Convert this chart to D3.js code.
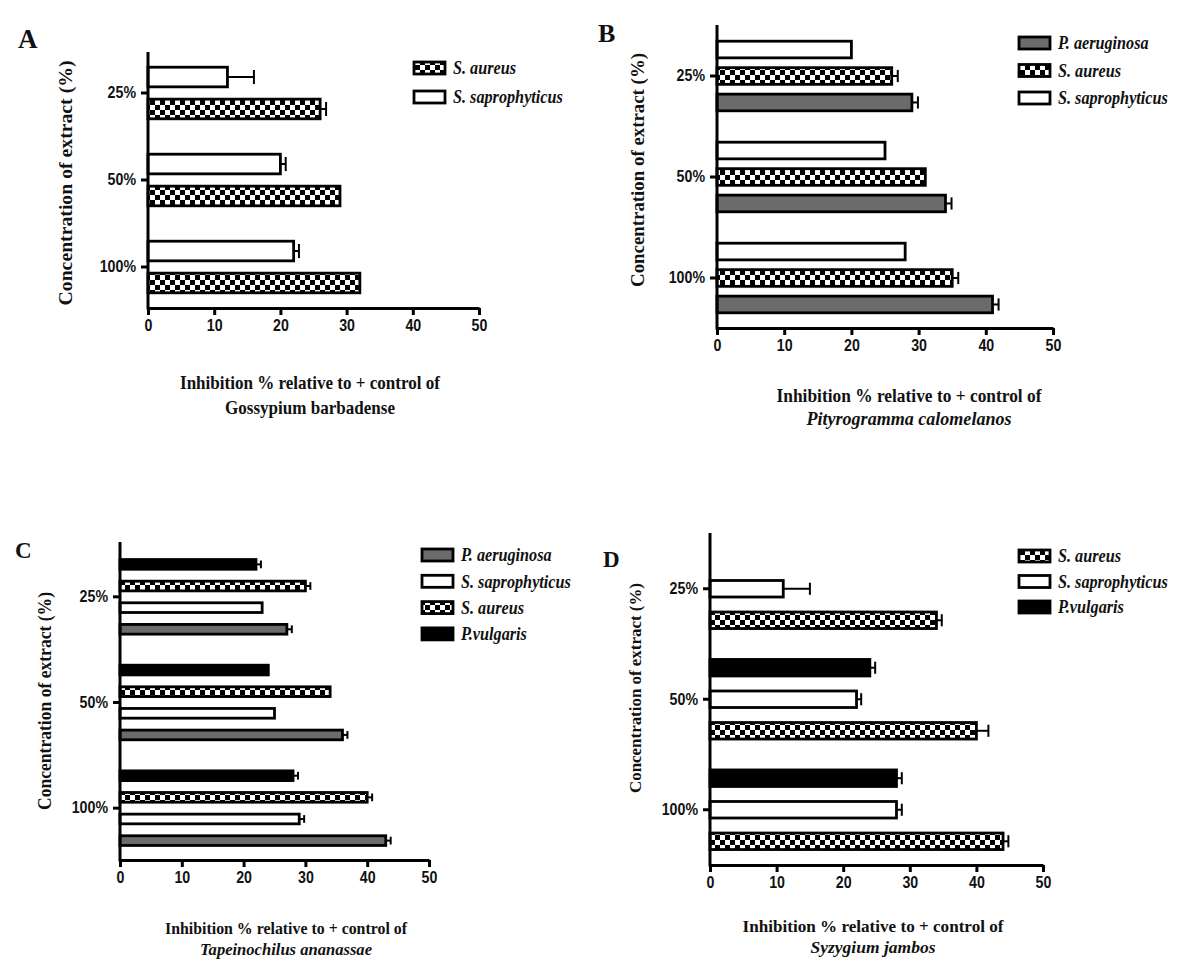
<!DOCTYPE html>
<html>
<head>
<meta charset="utf-8">
<script src="https://cdn.jsdelivr.net/npm/d3@7"></script>
<style>
  html, body { margin: 0; padding: 0; background: #fff; }
  svg { display: block; }
  .tick text { font-family: "Liberation Sans", Arial, sans-serif; font-weight: bold; font-size: 16.5px; fill: #111; }
  .serif { font-family: "Liberation Serif", "Times New Roman", serif; font-weight: bold; fill: #111; }
</style>
</head>
<body>
<svg id="chart" width="1200" height="977"></svg>
<script>
// ---------- data ----------
const concentrations = ["25%", "50%", "100%"];
const xTicks = [0, 10, 20, 30, 40, 50];

// Panel A – Gossypium barbadense
const seriesA = ["S. aureus", "S. saprophyticus"];
const aureusA = [26, 29, 32];
const aureusAErr = [0.9, 0, 0];
const saproA = [12, 20, 22];
const saproAErr = [4, 0.8, 0.8];

// Panel B – Pityrogramma calomelanos
const seriesB = ["P. aeruginosa", "S. aureus", "S. saprophyticus"];
const aerugB = [29, 34, 41];
const aerugBErr = [0.9, 0.9, 0.9];
const aureusB = [26, 31, 35];
const aureusBErr = [0.9, 0, 0.9];
const saproB = [20, 25, 28];
const saproBErr = [0, 0, 0];

// Panel C – Tapeinochilus ananassae
const seriesC = ["P. aeruginosa", "S. saprophyticus", "S. aureus", "P.vulgaris"];
const aerugC = [27, 36, 43];
const aerugCErr = [0.8, 0.8, 0.8];
const saproC = [23, 25, 29];
const saproCErr = [0, 0, 0.8];
const aureusC = [30, 34, 40];
const aureusCErr = [0.8, 0, 0.8];
const vulgC = [22, 24, 28];
const vulgCErr = [0.8, 0, 0.8];

// Panel D – Syzygium jambos
const seriesD = ["S. aureus", "S. saprophyticus", "P.vulgaris"];
const aureusD = [34, 40, 44];
const aureusDErr = [0.8, 1.8, 0.8];
const saproD = [11, 22, 28];
const saproDErr = [4, 0.7, 0.8];
const vulgD = [null, 24, 28];
const vulgDErr = [0, 0.8, 0.8];

const yTitle = "Concentration of extract (%)";
const xTitle1 = "Inhibition % relative to + control of";

// ---------- styles ----------
const fillFor = {
  "S. aureus": "url(#checker)",
  "S. saprophyticus": "#ffffff",
  "P. aeruginosa": "#6b6b6b",
  "P.vulgaris": "#000000"
};

const svg = d3.select("#chart");
const defs = svg.append("defs");
const pat = defs.append("pattern").attr("id", "checker")
  .attr("width", 10).attr("height", 10).attr("patternUnits", "userSpaceOnUse");
pat.append("rect").attr("width", 10).attr("height", 10).attr("fill", "#fff");
pat.append("rect").attr("width", 5).attr("height", 5).attr("fill", "#000");
pat.append("rect").attr("x", 5).attr("y", 5).attr("width", 5).attr("height", 5).attr("fill", "#000");

const panels = [
  { letter: "A", series: seriesA, values: [aureusA, saproA], errors: [aureusAErr, saproAErr],
    title2: "Gossypium barbadense", title2Italic: false,
    L: { x0: 148, x1: 479, yTop: 52, yBot: 308, bandTop: 49.5, bandBot: 310.5, span: 54, pad: 0.31,
         letterX: 18, letterY: 48, letterSize: 27,
         yTitleX: 65, yTitleY: 183, yTitleSize: 19.5, yTitleW: 245,
         xTitleX: 310, xTitleY1: 389, xTitleY2: 414, xTitleSize: 19, xTitleW1: 260, xTitleW2: 170,
         legX: 413, legY: 68, legStep: 29 } },
  { letter: "B", series: seriesB, values: [aerugB, aureusB, saproB], errors: [aerugBErr, aureusBErr, saproBErr],
    title2: "Pityrogramma calomelanos", title2Italic: true,
    L: { x0: 717, x1: 1053, yTop: 25, yBot: 328, bandTop: 25.5, bandBot: 328.5, span: 72, pad: 0.28,
         letterX: 598, letterY: 42, letterSize: 26,
         yTitleX: 637, yTitleY: 170, yTitleSize: 18.8, yTitleW: 234,
         xTitleX: 909, xTitleY1: 402, xTitleY2: 425, xTitleSize: 18, xTitleW1: 265, xTitleW2: 205,
         legX: 1018, legY: 43, legStep: 27.5 } },
  { letter: "C", series: seriesC, values: [aerugC, saproC, aureusC, vulgC], errors: [aerugCErr, saproCErr, aureusCErr, vulgCErr],
    title2: "Tapeinochilus ananassae", title2Italic: true,
    L: { x0: 120, x1: 429, yTop: 542, yBot: 860, bandTop: 544, bandBot: 861, span: 77, pad: 0.44,
         letterX: 15, letterY: 558, letterSize: 23,
         yTitleX: 45, yTitleY: 701, yTitleSize: 17.8, yTitleW: 218,
         xTitleX: 286, xTitleY1: 934, xTitleY2: 955, xTitleSize: 17.5, xTitleW1: 242, xTitleW2: 172,
         legX: 421, legY: 555, legStep: 26.3 } },
  { letter: "D", series: seriesD, values: [aureusD, saproD, vulgD], errors: [aureusDErr, saproDErr, vulgDErr],
    title2: "Syzygium jambos", title2Italic: true,
    L: { x0: 710, x1: 1043, yTop: 533, yBot: 865, bandTop: 533.5, bandBot: 865, span: 82, pad: 0.4,
         letterX: 603, letterY: 567, letterSize: 23,
         yTitleX: 635, yTitleY: 688, yTitleSize: 17.5, yTitleW: 210,
         xTitleX: 873, xTitleY1: 932, xTitleY2: 953, xTitleSize: 17.5, xTitleW1: 261, xTitleW2: 125,
         legX: 1018, legY: 556, legStep: 25.5 } }
];

panels.forEach(p => drawPanel(p));

function fitWidth(sel, w) {
  sel.attr("textLength", w).attr("lengthAdjust", "spacingAndGlyphs");
}
function condense(sel, f) {
  sel.each(function () {
    const n = this.getComputedTextLength();
    d3.select(this).attr("textLength", n * f).attr("lengthAdjust", "spacingAndGlyphs");
  });
}

function drawPanel(p) {
  const L = p.L;
  const g = svg.append("g");

  const x = d3.scaleLinear().domain([0, 50]).range([L.x0, L.x1]);
  const y = d3.scaleBand().domain(concentrations).range([L.bandTop, L.bandBot]).paddingInner(0).paddingOuter(0);
  const inner = d3.scaleBand().domain(p.series.slice().reverse())
    .range([-L.span / 2, L.span / 2]).paddingInner(L.pad).paddingOuter(0);
  const bh = inner.bandwidth();

  // bars
  p.series.forEach((s, si) => {
    const vals = p.values[si];
    const errs = p.errors[si];
    const recs = concentrations.map((c, ci) => ({ c, v: vals[ci], e: errs[ci] })).filter(d => d.v != null);
    const yy = d => y(d.c) + y.bandwidth() / 2 + inner(s);

    const eg = g.append("g");
    recs.filter(d => d.e > 0).forEach(d => {
      const cy = yy(d) + bh / 2;
      eg.append("line").attr("x1", x(d.v)).attr("x2", x(d.v + d.e)).attr("y1", cy).attr("y2", cy)
        .attr("stroke", "#000").attr("stroke-width", 2);
      eg.append("line").attr("x1", x(d.v + d.e)).attr("x2", x(d.v + d.e))
        .attr("y1", cy - bh * 0.32).attr("y2", cy + bh * 0.32)
        .attr("stroke", "#000").attr("stroke-width", 2);
    });

    g.append("g").selectAll("rect").data(recs).join("rect")
      .attr("x", x(0))
      .attr("y", d => yy(d) + 1.2)
      .attr("width", d => x(d.v) - x(0))
      .attr("height", bh - 2.4)
      .attr("fill", fillFor[s])
      .attr("stroke", "#000")
      .attr("stroke-width", 2.8);
  });

  // x axis
  const xa = g.append("g").attr("transform", `translate(0,${L.yBot})`)
    .call(d3.axisBottom(x).tickValues(xTicks).tickFormat(d3.format("d")).tickSize(7).tickSizeOuter(0).tickPadding(4));
  xa.select(".domain").attr("stroke", "#000").attr("stroke-width", 3);
  xa.selectAll(".tick line").attr("stroke", "#000").attr("stroke-width", 3);
  condense(xa.selectAll(".tick text"), 0.86);

  // y axis
  const ya = g.append("g").attr("transform", `translate(${L.x0},0)`)
    .call(d3.axisLeft(y).tickSize(7).tickSizeOuter(0).tickPadding(5));
  ya.select(".domain").remove();
  ya.selectAll(".tick line").attr("stroke", "#000").attr("stroke-width", 3);
  condense(ya.selectAll(".tick text"), 0.86);
  g.append("line").attr("x1", L.x0).attr("x2", L.x0).attr("y1", L.yTop).attr("y2", L.yBot + 1.5)
    .attr("stroke", "#000").attr("stroke-width", 3);

  // panel letter
  g.append("text").attr("class", "serif").attr("x", L.letterX).attr("y", L.letterY)
    .attr("font-size", L.letterSize).text(p.letter);

  // y title
  g.append("text").attr("class", "serif")
    .attr("transform", `translate(${L.yTitleX},${L.yTitleY}) rotate(-90)`)
    .attr("text-anchor", "middle").attr("dy", "0.35em")
    .attr("font-size", L.yTitleSize).text(yTitle)
    .call(fitWidth, L.yTitleW);

  // x title
  g.append("text").attr("class", "serif").attr("x", L.xTitleX).attr("y", L.xTitleY1)
    .attr("text-anchor", "middle").attr("font-size", L.xTitleSize).text(xTitle1)
    .call(fitWidth, L.xTitleW1);
  g.append("text").attr("class", "serif").attr("x", L.xTitleX).attr("y", L.xTitleY2)
    .attr("text-anchor", "middle").attr("font-size", L.xTitleSize)
    .attr("font-style", p.title2Italic ? "italic" : "normal").text(p.title2)
    .call(fitWidth, L.xTitleW2);

  // legend
  const lg = g.append("g");
  p.series.forEach((s, i) => {
    const cy = L.legY + i * L.legStep;
    lg.append("rect").attr("x", L.legX + 1).attr("y", cy - 6).attr("width", 31).attr("height", 12)
      .attr("fill", fillFor[s]).attr("stroke", "#000").attr("stroke-width", 2.8);
    lg.append("text").attr("class", "serif").attr("x", L.legX + 40).attr("y", cy).attr("dy", "0.35em")
      .attr("font-size", 18).attr("font-style", "italic").text(s)
      .call(condense, 0.9);
  });
}
</script>
</body>
</html>
